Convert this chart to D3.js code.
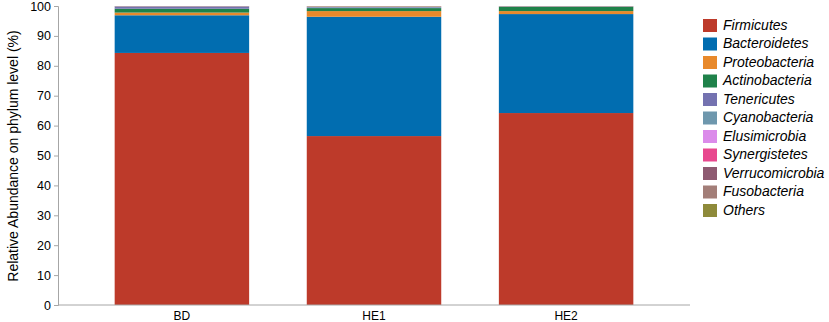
<!DOCTYPE html>
<html>
<head>
<meta charset="utf-8">
<script src="https://cdn.jsdelivr.net/npm/d3@7"></script>
<style>
  body { margin: 0; background: #fff; }
  text { font-family: Arial, "Liberation Sans", sans-serif; }
</style>
</head>
<body>
<script>
const samples = ['BD', 'HE1', 'HE2']
const phyla = ['Firmicutes', 'Bacteroidetes', 'Proteobacteria', 'Actinobacteria', 'Tenericutes',
  'Cyanobacteria', 'Elusimicrobia', 'Synergistetes', 'Verrucomicrobia', 'Fusobacteria', 'Others']
const colors = ['#bd3a2a', '#016db0', '#e8892b', '#1f824a', '#7472b0',
  '#6e97ad', '#db8bea', '#e8488e', '#8e5a71', '#a37e78', '#8e8a3a']

// percent per phylum, in sample order BD, HE1, HE2
const firmicutes = [84.3, 56.5, 64.2]
const bacteroidetes = [12.6, 39.9, 33.1]
const proteobacteria = [0.9, 1.9, 1.0]
const actinobacteria = [1.3, 1.0, 1.4]
const tenericutes = [0.7, 0.25, 0.1]
const cyanobacteria = [0.05, 0.15, 0.05]
const elusimicrobia = [0.02, 0.05, 0.02]
const synergistetes = [0.02, 0.05, 0.02]
const verrucomicrobia = [0.05, 0.05, 0.03]
const fusobacteria = [0.03, 0.05, 0.03]
const others = [0.03, 0.1, 0.05]

const yTicks = [0, 10, 20, 30, 40, 50, 60, 70, 80, 90, 100]

const series = [firmicutes, bacteroidetes, proteobacteria, actinobacteria, tenericutes,
  cyanobacteria, elusimicrobia, synergistetes, verrucomicrobia, fusobacteria, others]

const rows = samples.map((s, i) => {
  const r = {sample: s}
  phyla.forEach((p, j) => r[p] = series[j][i])
  return r
})

const width = 829, height = 322
const axisColor = '#a6a6a6'

const svg = d3.select('body').append('svg')
  .attr('width', width)
  .attr('height', height)

const x = d3.scaleBand()
  .domain(samples)
  .range([58, 690])
  .paddingInner(0.3)
  .paddingOuter(0.295)

const y = d3.scaleLinear()
  .domain([0, 100])
  .range([305, 6])

const stacked = d3.stack().keys(phyla)(rows)
const color = d3.scaleOrdinal().domain(phyla).range(colors)

svg.append('g')
  .selectAll('g')
  .data(stacked)
  .join('g')
  .attr('fill', d => color(d.key))
  .selectAll('rect')
  .data(d => d)
  .join('rect')
  .attr('x', d => x(d.data.sample))
  .attr('width', x.bandwidth())
  .attr('y', d => y(Math.min(d[1], 100)))
  .attr('height', d => Math.max(0, y(d[0]) - y(Math.min(d[1], 100))))

// y axis
const yAxis = svg.append('g')
  .attr('transform', 'translate(58,0)')
  .call(d3.axisLeft(y).tickValues(yTicks).tickSize(4).tickPadding(3))
yAxis.select('.domain').attr('stroke', axisColor)
yAxis.selectAll('.tick line').attr('stroke', axisColor)
yAxis.selectAll('.tick text')
  .attr('fill', '#000')
  .style('font-size', '12.5px')

// x axis
const xAxis = svg.append('g')
  .attr('transform', 'translate(0,305)')
  .call(d3.axisBottom(x).tickSize(0).tickPadding(6))
xAxis.select('.domain').attr('stroke', axisColor).attr('d', 'M58,0H690')
xAxis.selectAll('.tick text')
  .attr('fill', '#000')
  .style('font-size', '12px')

svg.append('text')
  .attr('transform', 'translate(14,156) rotate(-90)')
  .attr('text-anchor', 'middle')
  .attr('dominant-baseline', 'middle')
  .style('font-size', '14px')
  .text('Relative Abundance on phylum level (%)')

// legend
const legend = svg.append('g')
  .attr('transform', 'translate(703,19)')
  .selectAll('g')
  .data(phyla)
  .join('g')
  .attr('transform', (d, i) => `translate(0,${i * 18.5})`)

legend.append('rect')
  .attr('width', 14)
  .attr('height', 13)
  .attr('fill', d => color(d))

legend.append('text')
  .attr('x', 20)
  .attr('y', 7)
  .attr('dominant-baseline', 'middle')
  .style('font-size', '14px')
  .style('font-style', 'italic')
  .text(d => d)
</script>
</body>
</html>
